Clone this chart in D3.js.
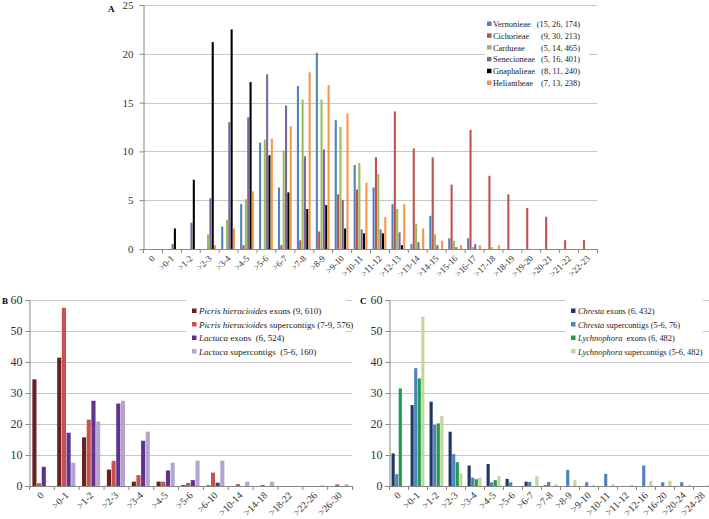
<!DOCTYPE html>
<html>
<head>
<meta charset="utf-8">
<script src="https://cdn.jsdelivr.net/npm/d3@7"></script>
<style>
  body { margin: 0; background: #fff; }
  svg, svg text { font-family: "Liberation Serif", "Times New Roman", "DejaVu Serif", serif; }
</style>
</head>
<body>
<div class="chart"></div>
<script>
const width = 709;
const height = 519;
const serif = '"Liberation Serif", "Times New Roman", "DejaVu Serif", serif';

// ---- panel A ----
const catsA = ['0', '>0-1', '>1-2', '>2-3', '>3-4', '>4-5', '>5-6', '>6-7', '>7-8', '>8-9', '>9-10',
  '>10-11', '>11-12', '>12-13', '>13-14', '>14-15', '>15-16', '>16-17', '>17-18', '>18-19',
  '>19-20', '>20-21', '>21-22', '>22-23'];
const vernonieae = [0, 0, 0, 0, 2.3, 4.6, 10.9, 6.3, 16.7, 20.1, 13.2, 8.6, 6.3, 4.6, 0.5, 3.4, 1.1, 1.1, 0, 0, 0, 0, 0, 0];
const cichorieae = [0, 0, 0, 0, 0, 0.4, 0, 0.4, 0.9, 1.8, 5.6, 6.1, 9.4, 14.1, 10.3, 9.4, 6.6, 12.2, 7.5, 5.6, 4.2, 3.3, 0.9, 0.9];
const cardueae = [0, 0, 0, 1.5, 3.0, 5.1, 11.2, 10.1, 15.3, 15.3, 12.5, 8.8, 7.7, 4.1, 2.6, 1.5, 0.85, 0.2, 0.2, 0, 0, 0, 0, 0];
const senecioneae = [0, 0.5, 2.7, 5.2, 13.0, 13.5, 17.9, 14.7, 9.5, 10.2, 5.0, 2.0, 2.0, 1.7, 0.7, 0.4, 0.2, 0.5, 0, 0, 0, 0, 0, 0];
const gnaphalieae = [0, 2.1, 7.1, 21.2, 22.5, 17.1, 9.6, 5.8, 4.1, 4.5, 2.1, 1.6, 1.6, 0.4, 0, 0, 0, 0, 0, 0, 0, 0, 0, 0];
const heliantheae = [0, 0, 0, 0.4, 2.1, 5.9, 11.3, 12.6, 18.1, 16.8, 13.9, 6.8, 3.3, 4.6, 2.1, 0.85, 0.4, 0.4, 0.4, 0, 0, 0, 0, 0];
const namesA = ['Vernonieae', 'Cichorieae', 'Cardueae', 'Senecioneae', 'Gnaphalieae', 'Heliantheae'];
const countsA = ['(15, 26, 174)', '(9, 30, 213)', '(5, 14, 465)', '(5, 16, 401)', '(8, 11, 240)', '(7, 13, 238)'];
const colorsA = ['#4f81bd', '#c0504d', '#9bbb59', '#8064a2', '#000000', '#f79646'];

// ---- panel B ----
const catsB = ['0', '>0-1', '>1-2', '>2-3', '>3-4', '>4-5', '>5-6', '>6-10', '>10-14', '>14-18', '>18-22', '>22-26', '>26-30'];
const picrisExons = [34.4, 41.4, 15.7, 5.3, 1.4, 1.4, 0.3, 0.2, 0, 0, 0, 0, 0];
const picrisSuper = [0.9, 57.5, 21.4, 8.1, 3.5, 1.4, 1.0, 4.3, 0.6, 0.3, 0, 0, 0.5];
const lactucaExons = [6.2, 17.2, 27.5, 26.6, 14.6, 5.0, 1.9, 1.1, 0, 0, 0, 0, 0];
const lactucaSuper = [0, 7.5, 20.8, 27.5, 17.5, 7.5, 8.2, 8.2, 1.4, 1.4, 0, 0.2, 0.5];
const legendB = [
  ['Picris hieracioides', ' exons (9, 610)'],
  ['Picris hieracioides', ' supercontigs (7-9, 576)'],
  ['Lactuca', ' exons  (6, 524)'],
  ['Lactuca', ' supercontigs  (5-6, 160)'],
];
const colorsB = ['#6b1f1f', '#c9514e', '#60318f', '#b4a5cf'];

// ---- panel C ----
const catsC = ['0', '>0-1', '>1-2', '>2-3', '>3-4', '>4-5', '>5-6', '>6-7', '>7-8', '>8-9', '>9-10',
  '>10-11', '>11-12', '>12-16', '>16-20', '>20-24', '>24-28'];
const chrestaExons = [10.5, 26.1, 27.2, 17.5, 6.6, 7.1, 2.3, 1.4, 0.2, 0, 0, 0, 0, 0, 0, 0, 0];
const chrestaSuper = [3.8, 38, 19.7, 10.3, 2.7, 1.2, 1.2, 1.3, 1.3, 5.2, 1.2, 3.9, 0, 6.6, 1.2, 1.2, 0];
const lychExons = [31.5, 34.7, 20.2, 7.7, 2.2, 1.9, 0, 0, 0, 0, 0, 0, 0, 0, 0, 0, 0];
const lychSuper = [0, 54.6, 22.6, 4.1, 2.7, 3.2, 0, 3.2, 0.6, 1.9, 0.3, 0.6, 0.3, 1.7, 1.7, 0.3, 0.2];
const legendC = [
  ['Chresta', ' exons (6, 432)'],
  ['Chresta', ' supercontigs (5-6, 76)'],
  ['Lychnophora', '  exons (6, 482)'],
  ['Lychnophora', ' supercontigs (5-6, 482)'],
];
const colorsC = ['#1f3864', '#4f81bd', '#1f9d4c', '#c3d69b'];

const svg = d3
  .select('.chart')
  .append('svg')
  .attr('width', width)
  .attr('height', height)
  .attr('font-family', serif);

// draws one grouped bar panel
function drawPanel(opt) {
  const g = svg.append('g');
  const x = d3.scaleBand().domain(opt.cats).range([opt.x0, opt.x1]).paddingInner(0.27).paddingOuter(0.135);
  const xs = d3.scaleBand().domain(d3.range(opt.series.length)).range([0, x.bandwidth()]).paddingInner(0.12);
  const y = d3.scaleLinear().domain([0, opt.yMax]).range([opt.y0, opt.y1]);
  const ticks = d3.range(0, opt.yMax + 1, opt.step);

  // gridlines
  g.append('g')
    .selectAll('line')
    .data(ticks.slice(1))
    .join('line')
    .attr('x1', opt.x0)
    .attr('x2', opt.x1)
    .attr('y1', (d) => Math.round(y(d)) + 0.5)
    .attr('y2', (d) => Math.round(y(d)) + 0.5)
    .attr('stroke', '#c6c6c6');

  // y axis
  const yAxis = g.append('g')
    .attr('transform', `translate(${opt.x0 + 0.5},0)`)
    .call(d3.axisLeft(y).tickValues(ticks).tickSize(4).tickPadding(opt.yPad));
  yAxis.attr('font-family', serif);
  yAxis.selectAll('line, path').attr('stroke', '#888');
  yAxis.selectAll('text').attr('font-size', opt.yFont).attr('fill', '#333');

  // bars
  opt.series.forEach((vals, i) => {
    g.append('g')
      .selectAll('rect')
      .data(vals)
      .join('rect')
      .attr('x', (d, j) => x(opt.cats[j]) + xs(i))
      .attr('width', xs.bandwidth())
      .attr('y', (d) => y(d))
      .attr('height', (d) => opt.y0 - y(d))
      .attr('fill', opt.colors[i]);
  });

  // x axis
  const step = x.step();
  g.append('line')
    .attr('x1', opt.x0).attr('x2', opt.x1)
    .attr('y1', opt.y0 + 0.5).attr('y2', opt.y0 + 0.5)
    .attr('stroke', '#888');
  g.append('g')
    .selectAll('line')
    .data(d3.range(opt.cats.length + 1))
    .join('line')
    .attr('x1', (d) => opt.x0 + d * step + 0.5)
    .attr('x2', (d) => opt.x0 + d * step + 0.5)
    .attr('y1', opt.y0)
    .attr('y2', opt.y0 + 4)
    .attr('stroke', '#888');
  g.append('g')
    .selectAll('text')
    .data(opt.cats)
    .join('text')
    .attr('transform', (d) => `translate(${x(d) + x.bandwidth() / 2 + 3},${opt.y0 + 10}) rotate(-45)`)
    .attr('text-anchor', 'end')
    .attr('font-size', opt.xFont)
    .attr('fill', '#333')
    .text((d) => d);

  svg.append('text')
    .attr('x', opt.labelX)
    .attr('y', opt.labelY)
    .attr('font-family', '"Liberation Sans", Arial, sans-serif')
    .attr('font-weight', 'bold')
    .attr('font-size', 9)
    .text(opt.label);
}

drawPanel({
  label: 'A', labelX: 108, labelY: 12,
  cats: catsA,
  series: [vernonieae, cichorieae, cardueae, senecioneae, gnaphalieae, heliantheae],
  colors: colorsA,
  x0: 143, x1: 597, y0: 249, y1: 5, yMax: 25, step: 5,
  yFont: 11, xFont: 9, yPad: 6,
});

drawPanel({
  label: 'B', labelX: 2, labelY: 304,
  cats: catsB,
  series: [picrisExons, picrisSuper, lactucaExons, lactucaSuper],
  colors: colorsB,
  x0: 29, x1: 352, y0: 486, y1: 300, yMax: 60, step: 10,
  yFont: 12, xFont: 10, yPad: 3,
});

drawPanel({
  label: 'C', labelX: 360, labelY: 304,
  cats: catsC,
  series: [chrestaExons, chrestaSuper, lychExons, lychSuper],
  colors: colorsC,
  x0: 389, x1: 712, y0: 486, y1: 300, yMax: 60, step: 10,
  yFont: 12, xFont: 10, yPad: 3,
});

// ---- legends ----
const legA = svg.append('g');
legA.append('rect').attr('x', 485).attr('y', 17).attr('width', 104).attr('height', 73).attr('fill', '#fff');
namesA.forEach((n, i) => {
  const yy = 27 + i * 11.8;
  legA.append('rect').attr('x', 487).attr('y', yy - 5.5).attr('width', 4.5).attr('height', 4.5).attr('fill', colorsA[i]);
  legA.append('text').attr('x', 493).attr('y', yy).attr('font-size', 8.4).attr('fill', '#222').text(n);
  legA.append('text').attr('x', 580).attr('y', yy).attr('text-anchor', 'end').attr('font-size', 8.4).attr('fill', '#222').text(countsA[i]);
});

function drawLegend(items, colors, lx, ly, w, fs) {
  const leg = svg.append('g');
  leg.append('rect').attr('x', lx - 6).attr('y', ly - 10).attr('width', w).attr('height', 58).attr('fill', '#fff');
  items.forEach((it, i) => {
    const yy = ly + 4 + i * 13.5;
    leg.append('rect').attr('x', lx).attr('y', yy - 5.5).attr('width', 4.5).attr('height', 4.5).attr('fill', colors[i]);
    const t = leg.append('text').attr('x', lx + 7).attr('y', yy).attr('font-size', fs).attr('fill', '#222');
    t.append('tspan').attr('font-style', 'italic').text(it[0]);
    t.append('tspan').attr('xml:space', 'preserve').text(it[1]);
  });
}

drawLegend(legendB, colorsB, 192, 310, 160, 9);
drawLegend(legendC, colorsC, 571, 310, 138, 8.4);
</script>
</body>
</html>
